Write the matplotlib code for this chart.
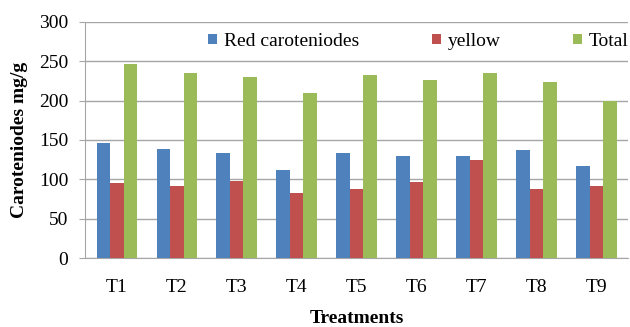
import matplotlib.pyplot as plt
import numpy as np

treatments = ['T1', 'T2', 'T3', 'T4', 'T5', 'T6', 'T7', 'T8', 'T9']
red = [146, 139, 133, 112, 133, 130, 130, 137, 117]
yellow = [95, 92, 98, 83, 88, 96, 125, 88, 91]
total = [246, 235, 230, 210, 232, 226, 235, 224, 199]

plt.rcParams['font.family'] = ['Liberation Serif', 'DejaVu Serif']

fig = plt.figure(figsize=(6.3, 3.27), dpi=100)
ax = fig.add_axes([0.135, 0.211, 0.862, 0.722])

x = np.arange(len(treatments))
w = 0.225
ax.bar(x - w, red, w, color='#4F81BD', label='Red caroteniodes', zorder=3)
ax.bar(x, yellow, w, color='#C0504D', label='yellow', zorder=3)
ax.bar(x + w, total, w, color='#9BBB59', label='Total', zorder=3)

ax.set_xlim(-0.53, len(treatments) - 0.47)
ax.set_ylim(0, 300)
ax.set_yticks(range(0, 301, 50))
ax.set_xticks(x)
ax.set_xticklabels(treatments)
ax.yaxis.grid(True, color='#A6A6A6', linewidth=1, zorder=0)
ax.tick_params(axis='x', length=0, labelsize=14, pad=15)
ax.tick_params(axis='y', length=4, color='#A6A6A6', labelsize=14, pad=8)

for side in ['top', 'right']:
    ax.spines[side].set_visible(False)
ax.spines['left'].set_color('#A6A6A6')
ax.spines['bottom'].set_color('#A6A6A6')

ax.set_ylabel('Caroteniodes mg/g', fontsize=14, fontweight='bold', labelpad=8)
ax.set_xlabel('Treatments', fontsize=14, fontweight='bold', labelpad=10)

ax.legend(loc='center left', bbox_to_anchor=(0.2265, 0.918), ncol=3, frameon=False,
          fontsize=14, handlelength=0.45, handleheight=0.45, handletextpad=0.35,
          columnspacing=3.75, borderpad=0, borderaxespad=0)

plt.savefig('out.png')
